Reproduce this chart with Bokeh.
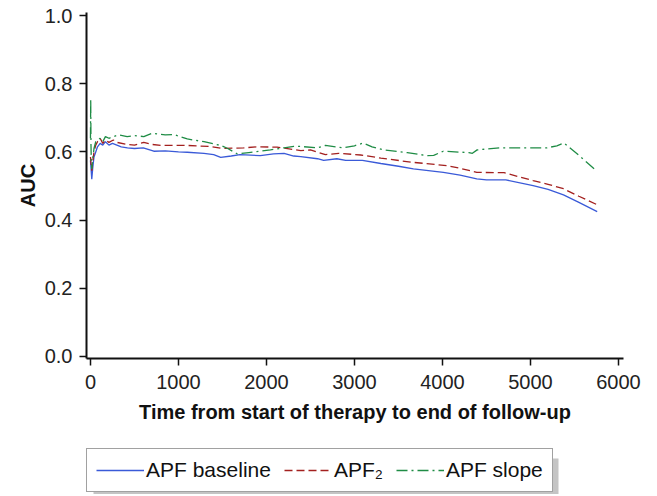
from bokeh.plotting import figure
from bokeh.models import Legend, LegendItem, BoxAnnotation, Range1d, FixedTicker
from bokeh.layouts import column
from bokeh.embed import file_html
from bokeh.resources import INLINE

# ---- data ----
baseline_x = [0, 8, 15, 25, 40, 60, 80, 110, 140, 170, 210, 250, 300, 350, 420, 500, 600,
              720, 850, 1000, 1100, 1290, 1400, 1480, 1600, 1700, 1930, 2080, 2200, 2310,
              2390, 2580, 2650, 2800, 2900, 3090, 3300, 3500, 3670, 4010, 4200, 4390, 4500,
              4720, 5030, 5200, 5375, 5550, 5758]
baseline_y = [0.575, 0.545, 0.52, 0.55, 0.585, 0.60, 0.615, 0.625, 0.62, 0.63, 0.62, 0.625,
              0.62, 0.615, 0.612, 0.61, 0.612, 0.602, 0.603, 0.60, 0.599, 0.596, 0.592,
              0.584, 0.588, 0.592, 0.589, 0.594, 0.596, 0.588, 0.586, 0.58, 0.575, 0.58,
              0.575, 0.575, 0.566, 0.558, 0.55, 0.54, 0.532, 0.521, 0.518, 0.518, 0.501,
              0.49, 0.474, 0.452, 0.425]

apf2_x = [0, 8, 15, 25, 40, 60, 80, 110, 140, 170, 210, 260, 300, 420, 500, 606, 700, 800,
          1100, 1360, 1500, 1740, 1900, 2120, 2390, 2500, 2670, 2820, 3070, 3300, 3640,
          4050, 4200, 4390, 4700, 5030, 5200, 5375, 5550, 5758]
apf2_y = [0.585, 0.56, 0.545, 0.57, 0.60, 0.62, 0.63, 0.64, 0.625, 0.635, 0.628, 0.635,
          0.628, 0.622, 0.62, 0.628, 0.622, 0.619, 0.619, 0.616, 0.61, 0.612, 0.615, 0.614,
          0.604, 0.606, 0.592, 0.596, 0.591, 0.582, 0.570, 0.560, 0.552, 0.540, 0.539,
          0.516, 0.505, 0.492, 0.47, 0.445]

slope_x = [0, 3, 6, 10, 15, 25, 40, 60, 80, 110, 140, 170, 210, 265, 320, 417, 500, 606,
           700, 758, 850, 947, 1020, 1100, 1290, 1480, 1560, 1670, 1800, 1930, 2045, 2200,
           2310, 2390, 2580, 2670, 2875, 3000, 3100, 3200, 3330, 3600, 3830, 3900, 4010,
           4300, 4340, 4394, 4660, 5190, 5300, 5380, 5550, 5758]
slope_y = [0.64, 0.755, 0.62, 0.57, 0.55, 0.575, 0.61, 0.63, 0.635, 0.64, 0.63, 0.645,
           0.64, 0.645, 0.65, 0.645, 0.648, 0.645, 0.655, 0.653, 0.65, 0.651, 0.645, 0.638,
           0.63, 0.619, 0.61, 0.594, 0.598, 0.602, 0.606, 0.612, 0.616, 0.616, 0.612, 0.619,
           0.612, 0.618, 0.626, 0.615, 0.606, 0.598, 0.589, 0.59, 0.602, 0.598, 0.596,
           0.606, 0.612, 0.612, 0.618, 0.626, 0.59, 0.543]

x_ticks = [0, 1000, 2000, 3000, 4000, 5000, 6000]
y_ticks = [0.0, 0.2, 0.4, 0.6, 0.8, 1.0]

labels = ["APF baseline", "APF\u2082", "APF slope"]

FONT = "Liberation Sans"
W = 645
FRAME_L, FRAME_R = 86, 623

styles = [dict(line_color="#3a5ad8", line_width=1.3),
          dict(line_color="#a3201f", line_width=1.3, line_dash="8 4"),
          dict(line_color="#1f8c45", line_width=1.3, line_dash="11 4 2 4")]

# ---- main chart ----
p = figure(width=W, height=440, output_backend="svg", toolbar_location=None,
           x_range=Range1d(-45, 6057), y_range=Range1d(-0.006, 1.009),
           min_border_left=FRAME_L, min_border_right=W - FRAME_R, min_border_top=12,
           min_border_bottom=82)
p.outline_line_color = None
p.grid.visible = False

for ax in (p.xaxis, p.yaxis):
    ax.axis_line_width = 2
    ax.axis_line_color = "#111111"
    ax.major_tick_line_color = "#111111"
    ax.major_tick_line_width = 1.5
    ax.major_tick_in = 0
    ax.major_tick_out = 7
    ax.minor_tick_line_color = None
    ax.major_label_text_font = FONT
    ax.major_label_text_font_size = "20px"
    ax.major_label_text_color = "#222222"
    ax.axis_label_text_font = FONT
    ax.axis_label_text_font_style = "bold"
    ax.axis_label_text_font_size = "20px"
    ax.axis_label_text_color = "#111111"

p.xaxis.ticker = FixedTicker(ticks=x_ticks)
p.yaxis.ticker = FixedTicker(ticks=y_ticks)
p.yaxis.major_label_overrides = {t: f"{t:.1f}" for t in y_ticks}
p.xaxis.axis_label = "Time from start of therapy to end of follow-up"
p.yaxis.axis_label = "AUC"
p.xaxis.major_label_standoff = 9
p.yaxis.major_label_standoff = 7
p.xaxis.axis_label_standoff = 9
p.yaxis.axis_label_standoff = 3

p.line(baseline_x, baseline_y, **styles[0])
p.line(apf2_x, apf2_y, **styles[1])
p.line(slope_x, slope_y, **styles[2])

# ---- legend strip (its frame is aligned with the chart frame by the column) ----
H2 = 54
q = figure(width=W, height=H2, output_backend="svg", toolbar_location=None,
           x_range=Range1d(FRAME_L, FRAME_R), y_range=Range1d(0, H2),
           x_axis_location=None, y_axis_location=None,
           min_border_left=FRAME_L, min_border_right=W - FRAME_R,
           min_border_top=0, min_border_bottom=0)
q.outline_line_color = None
q.grid.visible = False

nan = float("nan")
keys = [q.line([nan], [nan], **s) for s in styles]

shadow = BoxAnnotation(left=93, right=558, bottom=-10, top=36,
                       fill_color="#c4c4c4", fill_alpha=1.0, line_color=None)
q.add_layout(shadow)

legend = Legend(items=[LegendItem(label=lab, renderers=[r]) for lab, r in zip(labels, keys)],
                orientation="horizontal", location=(0, 2),
                label_text_font=FONT, label_text_font_size="21px", label_text_color="#111111",
                glyph_width=48, label_standoff=2, spacing=13, padding=9, margin=0,
                border_line_color="#444444", border_line_width=1,
                background_fill_color="white", background_fill_alpha=1.0)
q.add_layout(legend, "center")

layout = column(p, q, spacing=0)
open("out.html", "w").write(file_html(layout, INLINE))
